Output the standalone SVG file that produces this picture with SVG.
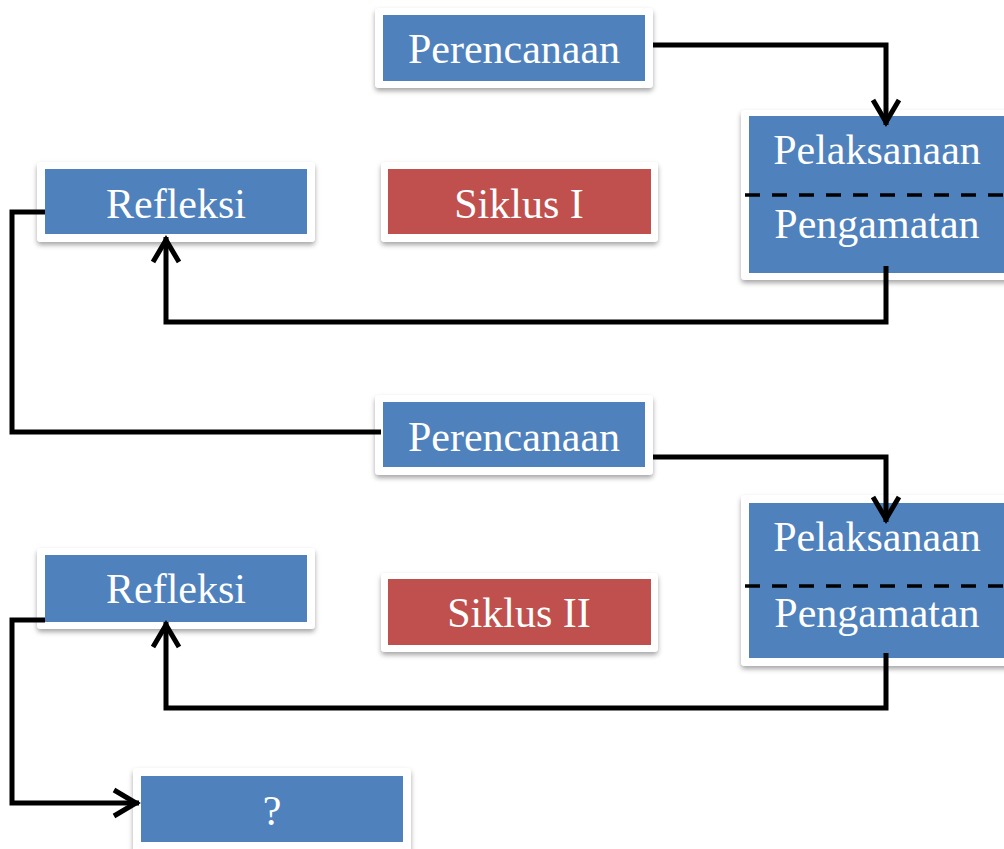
<svg xmlns="http://www.w3.org/2000/svg" width="1004" height="849" viewBox="0 0 1004 849">
  <style>
    .frame { fill: #ffffff; filter: url(#shadow); }
    .blue { fill: #4F81BD; }
    .red { fill: #C0504D; }
    .lbl { font-family: "Liberation Serif", "Times New Roman", serif; font-size: 42px; fill: #ffffff; text-anchor: middle; }
    .conn { fill: none; stroke: #000000; stroke-width: 5; stroke-linejoin: miter; }
    .dash { stroke: #000000; stroke-width: 3.5; stroke-dasharray: 15 12; }
  </style>
  <defs>
    <filter id="shadow" x="-10%" y="-20%" width="120%" height="150%">
      <feDropShadow dx="0" dy="3" stdDeviation="2.5" flood-color="#000000" flood-opacity="0.35"/>
    </filter>
    <marker id="arrow" markerUnits="userSpaceOnUse" markerWidth="40" markerHeight="40" viewBox="-30 -20 40 40" refX="0" refY="0" orient="auto" overflow="visible">
      <path d="M-25,-13 L-3,0 L-25,13" fill="none" stroke="#000000" stroke-width="5" stroke-linejoin="miter"/>
    </marker>
  </defs>
  <rect width="1004" height="849" fill="#ffffff"/>

  <g id="perencanaan1">
    <rect class="frame" x="375" y="8" width="278" height="80" rx="4"/>
    <rect class="blue" x="383" y="15" width="262" height="66"/>
    <text class="lbl" x="514" y="63">Perencanaan</text>
  </g>
  <g id="pelaksanaan1">
    <rect class="frame" x="741" y="110" width="280" height="170" rx="4"/>
    <rect class="blue" x="749" y="116" width="262" height="157"/>
    <line class="dash" x1="745" y1="195" x2="1004" y2="195"/>
    <text class="lbl" x="877" y="164">Pelaksanaan</text>
    <text class="lbl" x="877" y="238">Pengamatan</text>
  </g>
  <g id="refleksi1">
    <rect class="frame" x="37" y="162" width="278" height="80" rx="4"/>
    <rect class="blue" x="45" y="169" width="262" height="65"/>
    <text class="lbl" x="176" y="218">Refleksi</text>
  </g>
  <g id="siklus1">
    <rect class="frame" x="381" y="162" width="277" height="80" rx="4"/>
    <rect class="red" x="388" y="169" width="263" height="65"/>
    <text class="lbl" x="519" y="218">Siklus I</text>
  </g>
  <g id="perencanaan2">
    <rect class="frame" x="375" y="395" width="278" height="80" rx="4"/>
    <rect class="blue" x="383" y="402" width="262" height="65"/>
    <text class="lbl" x="514" y="451">Perencanaan</text>
  </g>
  <g id="pelaksanaan2">
    <rect class="frame" x="741" y="495" width="280" height="171" rx="4"/>
    <rect class="blue" x="749" y="503" width="262" height="155"/>
    <line class="dash" x1="745" y1="586" x2="1004" y2="586"/>
    <text class="lbl" x="877" y="551">Pelaksanaan</text>
    <text class="lbl" x="877" y="627">Pengamatan</text>
  </g>
  <g id="refleksi2">
    <rect class="frame" x="37" y="548" width="278" height="81" rx="4"/>
    <rect class="blue" x="45" y="555" width="262" height="67"/>
    <text class="lbl" x="176" y="603">Refleksi</text>
  </g>
  <g id="siklus2">
    <rect class="frame" x="381" y="573" width="277" height="79" rx="4"/>
    <rect class="red" x="388" y="579" width="263" height="66"/>
    <text class="lbl" x="519" y="627">Siklus II</text>
  </g>
  <g id="question">
    <rect class="frame" x="133" y="768" width="278" height="88" rx="4"/>
    <rect class="blue" x="141" y="776" width="262" height="66"/>
    <text class="lbl" x="272" y="825">?</text>
  </g>

  <g id="connectors">
    <path class="conn" d="M653,45 H886 V125" marker-end="url(#arrow)"/>
    <path class="conn" d="M886,266 V322 H166 V237" marker-end="url(#arrow)"/>
    <path class="conn" d="M45,212 H12 V432 H381"/>
    <path class="conn" d="M653,457 H886 V522" marker-end="url(#arrow)"/>
    <path class="conn" d="M886,653 V708 H166 V622" marker-end="url(#arrow)"/>
    <path class="conn" d="M45,620 H12 V803 H139" marker-end="url(#arrow)"/>
  </g>
</svg>
